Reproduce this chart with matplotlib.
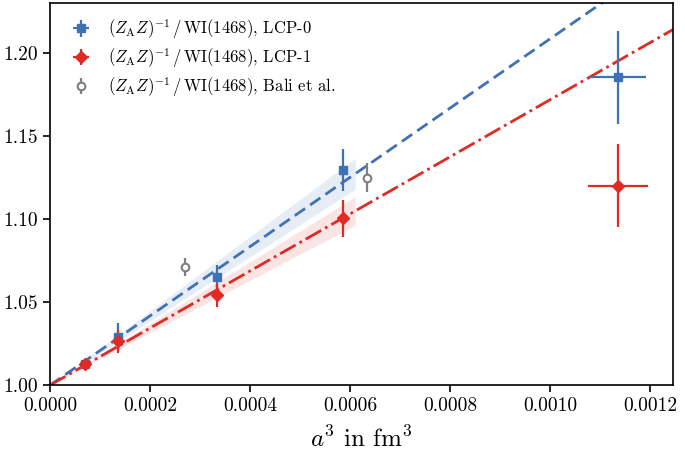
import matplotlib
matplotlib.use("Agg")
import matplotlib.pyplot as plt
import numpy as np

plt.rcParams['font.family'] = ['cmr10', 'DejaVu Serif']
plt.rcParams['mathtext.fontset'] = 'cm'
plt.rcParams['axes.formatter.use_mathtext'] = True

# data
a3 = [7.0e-5, 1.36e-4, 3.34e-4, 5.85e-4, 1.135e-3]

lcp0_y = [1.0128, 1.0292, 1.0650, 1.1295, 1.1855]
lcp0_yerr = [0.0015, 0.0080, 0.0075, 0.0125, 0.0280]
lcp0_xerr = [0, 0, 0, 0, 5.6e-5]

lcp1_y = [1.0130, 1.0265, 1.0542, 1.1004, 1.1200]
lcp1_yerr = [0.0018, 0.0070, 0.0070, 0.0110, 0.0250]
lcp1_xerr = [0, 0, 0, 0, 6.0e-5]

bali_x = [2.70e-4, 6.34e-4]
bali_y = [1.0713, 1.1250]
bali_yerr = [0.0055, 0.0085]

# linear fits through the first four points
fit0_slope, fit0_err = 208.7, 15.3
fit1_slope, fit1_err = 172.0, 14.0
band_xmax = 6.1e-4

blue = '#3f72b5'
red = '#e02a25'
grey = '#7f7f7f'

fig, ax = plt.subplots(figsize=(6.85, 4.58), dpi=100)
fig.subplots_adjust(left=0.073, right=0.9825, bottom=0.159, top=0.993)

lbl = r'$(Z_{\rm A}Z)^{-1}\,/\,{\rm WI}(1468)$'

xl = np.linspace(0, 0.00125, 50)
xb = np.linspace(0, band_xmax, 50)
ax.fill_between(xb, 1 + (fit0_slope - fit0_err) * xb, 1 + (fit0_slope + fit0_err) * xb,
                color=blue, alpha=0.12, lw=0)
ax.fill_between(xb, 1 + (fit1_slope - fit1_err) * xb, 1 + (fit1_slope + fit1_err) * xb,
                color=red, alpha=0.12, lw=0)
ax.plot(xl, 1 + fit0_slope * xl, color=blue, lw=2, dashes=(4.5, 2.2))
ax.plot(xl, 1 + fit1_slope * xl, '-.', color=red, lw=2)

ax.errorbar(a3, lcp0_y, yerr=lcp0_yerr, xerr=lcp0_xerr, fmt='s', color=blue,
            ms=6, elinewidth=1.6, capsize=0, label=lbl + ', LCP-0')
ax.errorbar(a3, lcp1_y, yerr=lcp1_yerr, xerr=lcp1_xerr, fmt='D', color=red,
            ms=6, elinewidth=1.6, capsize=0, label=lbl + ', LCP-1')
ax.errorbar(bali_x, bali_y, yerr=bali_yerr, fmt='o', color=grey, mfc='white',
            mec=grey, mew=1.5, ms=5.5, elinewidth=1.6, capsize=0,
            label=lbl + ', Bali et al.')

ax.set_xlim(0, 0.001245)
ax.set_ylim(1.0, 1.23)
ax.set_xticks(np.arange(0, 0.00121, 0.0002))
ax.set_xticklabels(['%.4f' % v for v in np.arange(0, 0.00121, 0.0002)])
ax.set_yticks([1.00, 1.05, 1.10, 1.15, 1.20])
ax.set_yticklabels(['1.00', '1.05', '1.10', '1.15', '1.20'])
ax.tick_params(labelsize=14, width=1.2, length=5)
for s in ax.spines.values():
    s.set_linewidth(1.2)
ax.set_xlabel(r'$a^3$ in fm$^3$', fontsize=18, labelpad=8)

ax.legend(loc='upper left', frameon=False, fontsize=12, handletextpad=0.6,
          borderaxespad=0.45, labelspacing=0.3, handlelength=2.0)

fig.savefig('out.png', dpi=100)
